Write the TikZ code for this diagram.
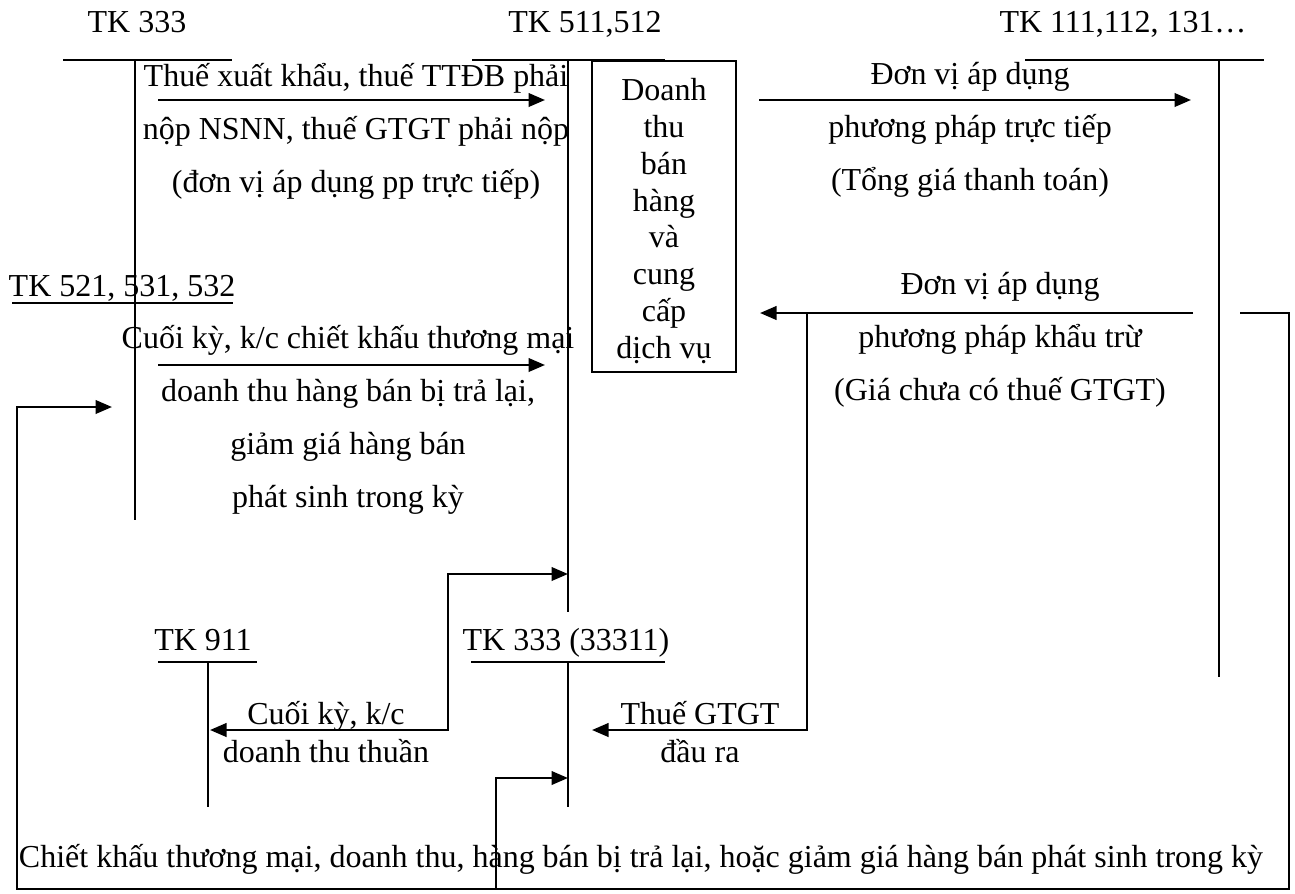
\documentclass[tikz,border=0pt]{standalone}
\usepackage{fontspec}
\setmainfont{Liberation Serif}
\usepackage{tikz}
\usetikzlibrary{arrows.meta, positioning}

\begin{document}
\begin{tikzpicture}[
    x=0.2mm, y=-0.2mm,
    every node/.style={font=\fontsize{18.2}{30.2}\selectfont, inner sep=0pt},
    acct/.style={line width=0.9pt},
    arrow/.style={-{Triangle[length=3.3mm,width=2.7mm]}, line width=1.4pt},
    arrowtwo/.style={{Triangle[length=3.3mm,width=2.7mm]}-{Triangle[length=3.3mm,width=2.7mm]}, line width=1.4pt},
    accname/.style={anchor=base},
    note/.style={align=center},
    tight/.style={align=center, font=\fontsize{18.2}{22.1}\selectfont},
    boxed/.style={draw, line width=0.9pt, minimum width=28.8mm, minimum height=62.2mm}
]
    \useasboundingbox (0,0) rectangle (1295,893);

    % account names
    \node[accname] (tk333) at (137,32) {TK 333};
    \node[accname] (tk511) at (585,32) {TK 511,512};
    \node[accname] (tk111) at (1123,32) {TK 111,112, 131…};
    \node[accname] (tk521) at (122,296) {TK 521, 531, 532};
    \node[accname] (tk911) at (203,650) {TK 911};
    \node[accname] (tk3331) at (566,650) {TK 333 (33311)};

    % T accounts
    \draw[acct] (63,60) -- (232,60) (135,60) -- (135,520);
    \draw[acct] (472,60) -- (665,60) (568,60) -- (568,612);
    \draw[acct] (1025,60) -- (1264,60) (1219,60) -- (1219,677);
    \draw[acct] (12,303) -- (233,303);
    \draw[acct] (158,662) -- (257,662) (208,662) -- (208,807);
    \draw[acct] (471,662) -- (665,662) (568,662) -- (568,807);

    \node[boxed] (dtbh) at (664,216.5) {};
    \node[align=center, font=\fontsize{18.2}{21}\selectfont] (dtbhtext) at (664,221) {Doanh\\thu\\bán\\hàng\\và\\cung\\cấp\\dịch vụ};

    % texts
    \node[note] (xk) at (356,131) {Thuế xuất khẩu, thuế TTĐB phải\\nộp NSNN, thuế GTGT phải nộp\\(đơn vị áp dụng pp trực tiếp)};
    \node[note] (tt) at (970,130) {Đơn vị áp dụng\\phương pháp trực tiếp\\(Tổng giá thanh toán)};
    \node[note] (kt) at (1000,340) {Đơn vị áp dụng\\phương pháp khẩu trừ\\(Giá chưa có thuế GTGT)};
    \node[note] (ck) at (348,420) {Cuối kỳ, k/c chiết khấu thương mại\\doanh thu hàng bán bị trả lại,\\giảm giá hàng bán\\phát sinh trong kỳ};
    \node[tight] (dtt) at (326,732) {Cuối kỳ, k/c\\doanh thu thuần};
    \node[tight] (gtgt) at (700,732) {Thuế GTGT\\đầu ra};
    \node[accname] (bottom) at (641,867) {Chiết khấu thương mại, doanh thu, hàng bán bị trả lại, hoặc giảm giá hàng bán phát sinh trong kỳ};

    % arrow ends
    \coordinate (a1s) at (158,100);  \coordinate (a1e) at (545,100);
    \coordinate (a2s) at (759,100);  \coordinate (a2e) at (1191,100);
    \coordinate (a3s) at (1193,313); \coordinate (a3e) at (760,313);
    \coordinate (a3b) at (807,313);  \coordinate (a5e) at (592,730);
    \coordinate (a4s) at (158,365);  \coordinate (a4e) at (545,365);
    \coordinate (rs) at (1240,313);  \coordinate (br) at (1289,889);
    \coordinate (bl) at (17,889);    \coordinate (a6e) at (112,407);
    \coordinate (bm) at (496,889);   \coordinate (a7e) at (568,778);
    \coordinate (a8e) at (568,574);  \coordinate (kc) at (448,730);
    \coordinate (a9e) at (210,730);

    \draw[arrow] (a1s) -- (a1e);
    \draw[arrow] (a2s) -- (a2e);
    \draw[arrow] (a3s) -- (a3e);
    \draw[arrow] (a3b) |- (a5e);
    \draw[arrow] (a4s) -- (a4e);
    \draw[arrow] (rs) -| (br) -- (bl) |- (a6e);
    \draw[arrow] (bm) |- (a7e);
    \draw[arrowtwo] (a8e) -| (kc) -- (a9e);
\end{tikzpicture}
\end{document}
